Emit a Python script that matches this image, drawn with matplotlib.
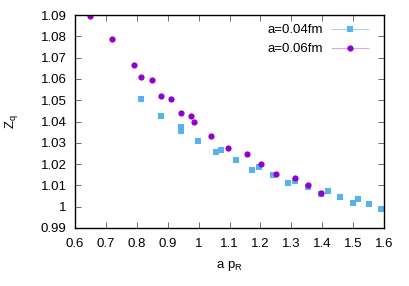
import matplotlib
matplotlib.use("Agg")
import matplotlib.pyplot as plt
from matplotlib.ticker import FormatStrFormatter, MultipleLocator
from matplotlib.legend_handler import HandlerErrorbar
from matplotlib.container import ErrorbarContainer
import numpy as np

plt.rcParams['font.family'] = ['Liberation Sans', 'DejaVu Sans']

x04 = [0.814, 0.878, 0.943, 0.943, 0.999, 1.057, 1.071, 1.122, 1.174, 1.196, 1.241,
       1.288, 1.313, 1.355, 1.397, 1.420, 1.458, 1.499, 1.516, 1.551, 1.590]
z04 = [1.0507, 1.0426, 1.0373, 1.0355, 1.0310, 1.0255, 1.0268, 1.0221, 1.0174, 1.0186, 1.0148,
       1.0111, 1.0122, 1.0093, 1.0061, 1.0075, 1.0047, 1.0019, 1.0036, 1.0013, 0.9988]
x06 = [0.648, 0.719, 0.790, 0.814, 0.850, 0.878, 0.912, 0.943, 0.975, 0.985, 1.040,
       1.096, 1.156, 1.202, 1.250, 1.313, 1.355, 1.397]
z06 = [1.0897, 1.0787, 1.0667, 1.0610, 1.0595, 1.0518, 1.0506, 1.0440, 1.0426, 1.0396, 1.0333,
       1.0274, 1.0246, 1.0199, 1.0153, 1.0136, 1.0100, 1.0064]
labels = ["a=0.04fm", "a=0.06fm"]

fig = plt.figure(figsize=(4.09, 2.86), dpi=100)
ax = fig.add_axes([75/409, 1-228/286, (384-75)/409, (228-15)/286])

blue = '#56B4E9'
purple = '#9400D3'
ax.errorbar(x04, z04, xerr=np.zeros(len(x04)), fmt='s', color=blue, ms=4.3, mew=0,
            ecolor='#a8d8f4', elinewidth=0.8, capsize=2, label=labels[0])
ax.errorbar(x06, z06, xerr=np.zeros(len(x06)), fmt='o', color=purple, ms=4.5, mew=0,
            ecolor='#d9a6f0', elinewidth=0.8, capsize=2, label=labels[1])

ax.set_xlim(0.6, 1.6)
ax.set_ylim(0.99, 1.09)
ax.xaxis.set_major_locator(MultipleLocator(0.1))
ax.yaxis.set_major_locator(MultipleLocator(0.01))
ax.xaxis.set_major_formatter(FormatStrFormatter('%g'))
ax.yaxis.set_major_formatter(FormatStrFormatter('%g'))
ax.tick_params(direction='in', top=True, right=True, length=4, width=0.6,
               labelsize=9.5, pad=6, color='#555555')
ax.tick_params(axis='x', pad=7)
for s in ax.spines.values():
    s.set_linewidth(1.0)

ax.set_xlabel(r'a p$_\mathregular{R}$', fontsize=9.5, labelpad=7)
ax.set_ylabel(r'Z$_\mathregular{q}$', fontsize=9.5, labelpad=15)

leg = ax.legend(loc='upper right', bbox_to_anchor=(1 - 6/309, 1), frameon=False,
                markerfirst=False, fontsize=9.5,
                handlelength=2.9, handletextpad=0.6, borderaxespad=0.3, borderpad=0.4,
                labelspacing=0.5,
                handler_map={ErrorbarContainer: HandlerErrorbar(xerr_size=1.45)})

fig.savefig('out.png', dpi=100)
